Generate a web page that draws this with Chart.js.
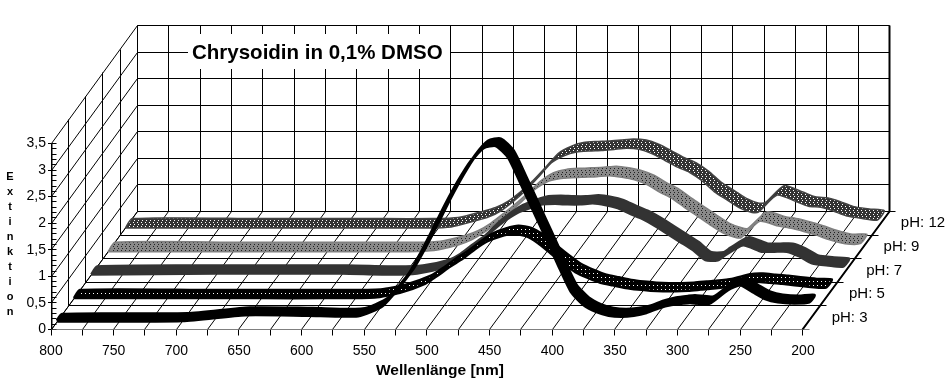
<!DOCTYPE html>
<html lang="en">
<head>
    <meta charset="UTF-8">
    <title>Chrysoidin in 0,1% DMSO</title>
    <script src="https://cdn.jsdelivr.net/npm/chart.js"></script>
    <style>
        body { margin: 0; background: white; }
        canvas { display: block; }
    </style>
</head>
<body>
    <canvas id="chart" width="951" height="386"></canvas>

    <script>
        var wavelengths = [800, 700, 650, 600, 560, 540, 520, 510, 500, 490, 480, 470, 460, 450, 440, 430, 420, 410, 400, 390, 380, 370, 360, 350, 340, 330, 320, 310, 300, 295, 280, 265, 255, 245, 235, 225, 212, 200];
        var ph3 = [0, 0.01, 0.12, 0.11, 0.10, 0.30, 0.86, 1.27, 1.73, 2.20, 2.63, 3.00, 3.26, 3.30, 3.08, 2.59, 2.08, 1.57, 1.05, 0.56, 0.31, 0.18, 0.11, 0.09, 0.11, 0.16, 0.25, 0.31, 0.34, 0.35, 0.33, 0.59, 0.68, 0.55, 0.42, 0.36, 0.34, 0.36];
        var ph5 = [0, 0, 0, 0, 0.01, 0.10, 0.27, 0.42, 0.59, 0.74, 0.92, 1.07, 1.16, 1.21, 1.17, 1.04, 0.85, 0.66, 0.49, 0.38, 0.29, 0.24, 0.19, 0.16, 0.14, 0.13, 0.13, 0.14, 0.16, 0.17, 0.21, 0.30, 0.31, 0.29, 0.27, 0.24, 0.21, 0.20];
        var ph7 = [0, 0.02, 0.02, 0.02, 0, 0.02, 0.12, 0.24, 0.42, 0.59, 0.82, 1.01, 1.16, 1.25, 1.32, 1.33, 1.32, 1.32, 1.34, 1.31, 1.25, 1.14, 1.04, 0.91, 0.76, 0.61, 0.46, 0.27, 0.27, 0.35, 0.55, 0.43, 0.43, 0.43, 0.34, 0.21, 0.17, 0.15];
        var ph9 = [0, 0, 0, 0, 0, 0.02, 0.13, 0.22, 0.36, 0.54, 0.73, 0.94, 1.16, 1.31, 1.37, 1.39, 1.40, 1.41, 1.43, 1.40, 1.35, 1.26, 1.12, 1.00, 0.83, 0.67, 0.51, 0.36, 0.27, 0.26, 0.57, 0.48, 0.44, 0.38, 0.31, 0.23, 0.15, 0.15];
        var ph12 = [0, 0, 0, 0, 0, 0.02, 0.14, 0.21, 0.33, 0.51, 0.72, 0.97, 1.23, 1.36, 1.43, 1.45, 1.46, 1.48, 1.50, 1.48, 1.40, 1.28, 1.15, 1.05, 0.89, 0.68, 0.53, 0.38, 0.29, 0.30, 0.62, 0.50, 0.41, 0.39, 0.32, 0.23, 0.18, 0.15];
        var seriesLabels = ['pH: 3', 'pH: 5', 'pH: 7', 'pH: 9', 'pH: 12'];

        var xTicks = [800, 775, 750, 725, 700, 675, 650, 625, 600, 575, 550, 525, 500, 475, 450, 425, 400, 375, 350, 325, 300, 275, 250, 225, 200];
        var yTicks = [0, 0.5, 1, 1.5, 2, 2.5, 3, 3.5];
        var yMinorTicks = [0.1, 0.2, 0.3, 0.4, 0.6, 0.7, 0.8, 0.9, 1.1, 1.2, 1.3, 1.4, 1.6, 1.7, 1.8, 1.9, 2.1, 2.2, 2.3, 2.4, 2.6, 2.7, 2.8, 2.9, 3.1, 3.2, 3.3, 3.4];

        // one depth step = one series row on the floor, expressed in axis units
        var depthNm = 13.8;
        var depthValue = 0.444;
        var rows = 5;

        function project(nm, value, depth) {
            return { x: nm - depth * depthNm, y: value + depth * depthValue };
        }

        // closed outline: front edge forwards, back edge backwards
        function ribbon(values, row, half) {
            var pts = [];
            var d = row + 0.5;
            for (var i = 0; i < wavelengths.length; i++) {
                pts.push(project(wavelengths[i], values[i], d - half));
            }
            for (var j = wavelengths.length - 1; j >= 0; j--) {
                pts.push(project(wavelengths[j], values[j], d + half));
            }
            pts.push(pts[0]);
            return pts;
        }

        function makePattern(bg, fg, w, h, cells) {
            var c = document.createElement('canvas');
            c.width = w;
            c.height = h;
            var g = c.getContext('2d');
            g.fillStyle = bg;
            g.fillRect(0, 0, w, h);
            g.fillStyle = fg;
            cells.forEach(function (p) { g.fillRect(p[0], p[1], 1, 1); });
            return g.createPattern(c, 'repeat');
        }

        var ribbons = [
            { values: ph3, half: 0.14, line: 3.5, fill: '#000000', edge: '#000000' },
            { values: ph5, half: 0.17, line: 2.5, fill: makePattern('#000000', '#ffffff', 4, 4, [[1, 1]]), edge: '#000000' },
            { values: ph7, half: 0.17, line: 2.5, fill: '#333333', edge: '#333333' },
            { values: ph9, half: 0.2, line: 1.5, fill: makePattern('#8a8a8a', '#222222', 4, 4, [[2, 0], [1, 2]]), edge: '#808080' },
            { values: ph12, half: 0.2, line: 1.5, fill: makePattern('#333333', '#ffffff', 4, 4, [[2, 0], [1, 2]]), edge: '#444444' }
        ];

        function gridDataset(segments, width) {
            var pts = [];
            segments.forEach(function (s) {
                pts.push(s[0], s[1], { x: NaN, y: NaN });
            });
            return {
                data: pts,
                showLine: true,
                borderColor: '#000000',
                borderWidth: width,
                pointRadius: 0,
                fill: false,
                tension: 0,
                isGrid: true
            };
        }

        var yTop = yTicks[yTicks.length - 1];
        var first = xTicks[0];
        var last = xTicks[xTicks.length - 1];
        var thinLines = [];
        var thickLines = [];

        yTicks.forEach(function (v) {
            thinLines.push([project(first, v, rows), project(last, v, rows)]); // back wall
            thinLines.push([project(first, v, 0), project(first, v, rows)]);   // left wall
        });
        xTicks.forEach(function (nm) {
            thinLines.push([project(nm, 0, rows), project(nm, yTop, rows)]);   // back wall
            thinLines.push([project(nm, 0, 0), project(nm, 0, rows)]);         // floor
        });
        for (var r = 0; r <= rows; r++) {
            // floor lines run past the edge to make the depth tick
            thinLines.push([project(first, 0, r), project(last - 5, 0, r)]);
            thinLines.push([project(first, 0, r), project(first, yTop, r)]);
        }
        yMinorTicks.concat(yTicks).forEach(function (v) {
            thinLines.push([project(first, v, 0), project(first - 4, v, 0)]);
        });
        thickLines.push([project(last, 0, 0), project(last, 0, rows)]);
        thickLines.push([project(last, 0, rows), project(last, yTop, rows)]);
        thickLines.push([project(first, 0, 0), project(first, yTop, 0)]);

        // first dataset ends up on top, so front ribbon goes first
        var datasets = ribbons.map(function (s, i) {
            return {
                data: ribbon(s.values, i, s.half),
                showLine: true,
                fill: 'shape',
                backgroundColor: s.fill,
                borderColor: s.edge,
                borderWidth: s.line,
                borderJoinStyle: 'round',
                pointRadius: 0,
                tension: 0.2
            };
        });
        datasets.push(gridDataset(thickLines, 2));
        datasets.push(gridDataset(thinLines, 1));

        // keep the grid on whole pixels, the original has no smoothing
        var snapGrid = {
            id: 'snapGrid',
            beforeDatasetsDraw: function (chart) {
                chart.data.datasets.forEach(function (ds, i) {
                    if (!ds.isGrid) return;
                    chart.getDatasetMeta(i).data.forEach(function (p) {
                        p.x = Math.floor(p.x) + 0.5;
                        p.y = Math.floor(p.y) + 0.5;
                    });
                });
            }
        };

        var textLabels = {
            id: 'textLabels',
            afterDraw: function (chart) {
                var ctx = chart.ctx;
                var xs = chart.scales.x;
                var ys = chart.scales.y;
                ctx.save();
                ctx.textBaseline = 'middle';

                // title sits on a white box over the back wall
                ctx.fillStyle = '#ffffff';
                ctx.fillRect(188, 34, 262, 35);
                ctx.fillStyle = '#000000';
                ctx.font = 'bold 20.5px "Liberation Sans"';
                ctx.textAlign = 'left';
                ctx.fillText('Chrysoidin in 0,1% DMSO', 192, 53);

                ctx.font = 'bold 15.5px "Liberation Sans"';
                ctx.fillText('Wellenlänge [nm]', 376, 371);

                ctx.font = 'bold 11px "Liberation Sans"';
                ctx.textAlign = 'center';
                'Extinktion'.split('').forEach(function (ch, i) {
                    ctx.fillText(ch, 10, 177 + i * 15);
                });

                ctx.font = '15px "Liberation Sans"';
                ctx.textAlign = 'left';
                seriesLabels.forEach(function (label, i) {
                    var p = project(last - 16, 0, i + 0.5);
                    ctx.fillText(label, xs.getPixelForValue(p.x), ys.getPixelForValue(p.y));
                });
                ctx.restore();
            }
        };

        new Chart(document.getElementById('chart'), {
            type: 'scatter',
            data: { datasets: datasets },
            plugins: [snapGrid, textLabels],
            options: {
                responsive: false,
                animation: false,
                events: [],
                layout: { padding: 0 },
                plugins: {
                    legend: { display: false },
                    title: { display: false },
                    tooltip: { enabled: false }
                },
                scales: {
                    x: {
                        type: 'linear',
                        reverse: true,
                        min: 81.9,
                        max: 800,
                        afterFit: function (s) {
                            s.height = 56.5;
                            s.paddingLeft = 0;
                            s.paddingRight = 0;
                        },
                        afterBuildTicks: function (s) {
                            s.ticks = xTicks.map(function (v) { return { value: v }; });
                        },
                        border: { display: false },
                        grid: { drawOnChartArea: false, drawTicks: true, tickLength: 6, color: '#000000' },
                        ticks: {
                            autoSkip: false,
                            maxRotation: 0,
                            padding: 7,
                            color: '#000000',
                            font: { family: '"Liberation Sans"', size: 14 },
                            callback: function (v) { return v % 50 === 0 ? String(v) : ''; }
                        }
                    },
                    y: {
                        type: 'linear',
                        min: 0,
                        max: 6.2,
                        afterFit: function (s) {
                            s.width = 51;
                            s.paddingTop = 0;
                            s.paddingBottom = 0;
                        },
                        afterBuildTicks: function (s) {
                            s.ticks = yTicks.map(function (v) { return { value: v }; });
                        },
                        border: { display: false },
                        grid: { drawOnChartArea: false, drawTicks: true, tickLength: 3, color: '#000000' },
                        ticks: {
                            autoSkip: false,
                            padding: 2,
                            color: '#000000',
                            font: { family: '"Liberation Sans"', size: 14 },
                            callback: function (v) { return String(v).replace('.', ','); }
                        }
                    }
                }
            }
        });
    </script>
</body>
</html>
